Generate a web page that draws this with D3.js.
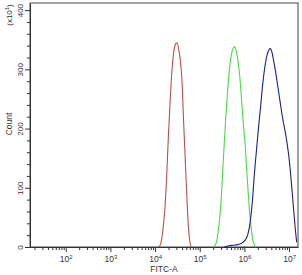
<!DOCTYPE html>
<html lang="en">
<head>
    <meta charset="UTF-8">
    <title>FITC-A histogram</title>
    <script src="https://d3js.org/d3.v7.min.js"></script>
    <style>
        body { margin: 0; background: #fff; }
        svg { display: block; font-family: "Liberation Sans", Arial, sans-serif; }
        .axis path, .axis line { stroke: #333; }
        .axis text { fill: #333; font-size: 8px; }
        .curve { fill: none; stroke-width: 1.1; }
    </style>
</head>
<body>
    <svg id="chart"></svg>

    <script>
        // log10(FITC-A) and count (x10) for each histogram
        var redLog   = [4.08, 4.12, 4.17, 4.22, 4.26, 4.30, 4.34, 4.38, 4.42, 4.46, 4.49, 4.52, 4.56, 4.60, 4.64, 4.68, 4.72, 4.75, 4.78, 4.81];
        var redCount = [0, 4, 25, 65, 120, 190, 250, 300, 330, 343, 345, 338, 318, 285, 210, 140, 70, 30, 8, 0];

        var greenLog   = [5.30, 5.36, 5.42, 5.48, 5.53, 5.58, 5.63, 5.68, 5.73, 5.78, 5.82, 5.86, 5.90, 5.94, 5.98, 6.02, 6.06, 6.10, 6.14, 6.18, 6.22, 6.26];
        var greenCount = [0, 5, 30, 80, 150, 215, 270, 310, 332, 338, 330, 312, 285, 245, 205, 170, 120, 75, 40, 15, 4, 0];

        var blueLog   = [5.55, 5.65, 5.75, 5.85, 5.95, 6.02, 6.08, 6.13, 6.18, 6.22, 6.27, 6.31, 6.36, 6.41, 6.46, 6.51, 6.55, 6.58, 6.62, 6.66, 6.70, 6.75, 6.80, 6.85, 6.90, 6.95, 7.00, 7.05, 7.10, 7.14, 7.17];
        var blueCount = [0, 2, 3, 4, 7, 12, 22, 42, 78, 120, 163, 197, 235, 275, 305, 325, 333, 335, 328, 312, 295, 270, 245, 220, 200, 178, 150, 110, 65, 30, 8];

        var xMajor = [2, 3, 4, 5, 6, 7];
        var yMajor = [0, 100, 200, 300, 400];

        var series = [
            { log: redLog, count: redCount, color: "#b5514f" },
            { log: greenLog, count: greenCount, color: "#45dc45" },
            { log: blueLog, count: blueCount, color: "#1f1f8f" }
        ];

        var W = 302, H = 275;
        var margin = { top: 3, right: 4, bottom: 28, left: 30 };
        var width = W - margin.left - margin.right,
            height = H - margin.top - margin.bottom;

        var svg = d3.select("#chart").attr("width", W).attr("height", H);
        var g = svg.append("g").attr("transform", "translate(" + margin.left + "," + margin.top + ")");

        var x = d3.scaleLog().domain([Math.pow(10, 1.2), Math.pow(10, 7.2)]).range([0, width]);
        var y = d3.scaleLinear().domain([0, 412]).range([height, 0]);

        // minor ticks (2..9 x 10^n) inside the domain
        var xMinor = [];
        for (var e = 1; e <= 7; e++) {
            for (var m = 2; m <= 9; m++) {
                var v = m * Math.pow(10, e);
                if (v >= x.domain()[0] && v <= x.domain()[1]) xMinor.push(v);
            }
        }
        var yMinor = d3.range(0, 412, 20).filter(function(d) { return d % 100 !== 0; });

        // frame
        g.append("rect")
            .attr("width", width).attr("height", height)
            .attr("fill", "none").attr("stroke", "#444").attr("stroke-width", 1);

        // x axis
        g.append("g").attr("class", "axis")
            .attr("transform", "translate(0," + height + ")")
            .call(d3.axisBottom(x).tickValues(xMinor).tickSize(3).tickFormat("").tickSizeOuter(0));
        var xAx = g.append("g").attr("class", "axis")
            .attr("transform", "translate(0," + height + ")")
            .call(d3.axisBottom(x).tickValues(xMajor.map(function(d) { return Math.pow(10, d); }))
                .tickSize(5).tickSizeOuter(0).tickFormat(""));
        xAx.select(".domain").remove();
        xAx.selectAll(".tick").each(function(d, i) {
            var t = d3.select(this).append("text")
                .attr("y", 15).attr("text-anchor", "middle")
                .style("font-size", "8.5px");
            t.append("tspan").text("10");
            t.append("tspan").attr("dy", -3.5).attr("font-size", "6px").text(xMajor[i]);
        });

        // y axis
        g.append("g").attr("class", "axis")
            .call(d3.axisLeft(y).tickValues(yMinor).tickSize(3).tickFormat("").tickSizeOuter(0));
        var yAx = g.append("g").attr("class", "axis")
            .call(d3.axisLeft(y).tickValues(yMajor).tickSize(5).tickSizeOuter(0).tickFormat(""));
        yAx.select(".domain").remove();
        yAx.selectAll(".tick").append("text")
            .attr("transform", "translate(-7,0) rotate(-90)")
            .attr("text-anchor", "middle")
            .text(function(d) { return d; });

        // curves
        var line = d3.line()
            .x(function(d) { return x(Math.pow(10, d[0])); })
            .y(function(d) { return y(d[1]); })
            .curve(d3.curveMonotoneX);

        series.forEach(function(s) {
            g.append("path")
                .datum(d3.zip(s.log, s.count))
                .attr("class", "curve")
                .attr("stroke", s.color)
                .attr("d", line);
        });

        // axis titles
        svg.append("text")
            .attr("transform", "translate(12,124) rotate(-90)")
            .attr("text-anchor", "middle")
            .attr("font-size", "8.5px").attr("fill", "#333")
            .text("Count");

        var sc = svg.append("text")
            .attr("transform", "translate(12,15) rotate(-90)")
            .attr("text-anchor", "middle")
            .attr("font-size", "8px").attr("fill", "#333");
        sc.append("tspan").text("(x10");
        sc.append("tspan").attr("dy", -3).attr("font-size", "6px").text("1");
        sc.append("tspan").attr("dy", 3).text(")");

        svg.append("text")
            .attr("x", 164).attr("y", 272)
            .attr("text-anchor", "middle")
            .attr("font-size", "8.5px").attr("fill", "#333")
            .text("FITC-A");
    </script>
</body>
</html>
